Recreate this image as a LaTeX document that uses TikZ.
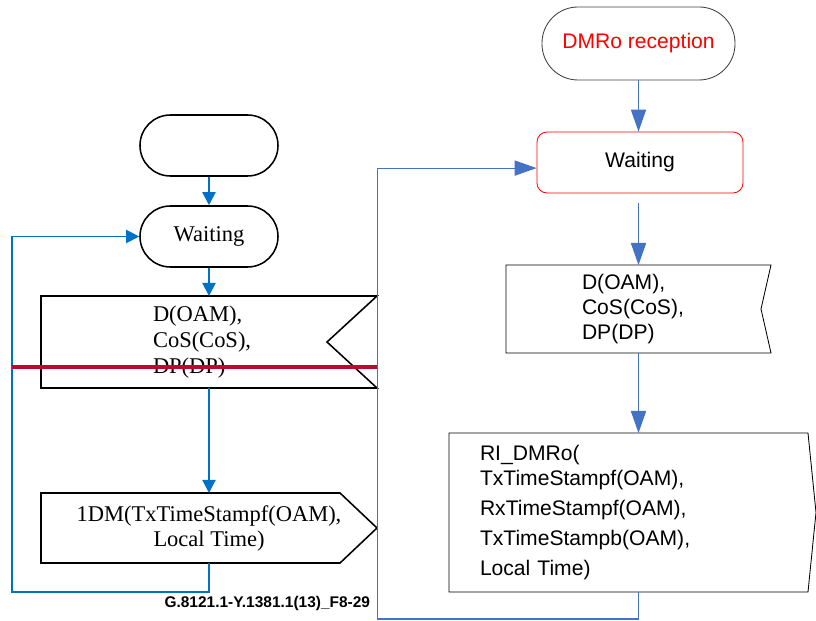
\documentclass[tikz,border=0pt]{standalone}
\usepackage{fontspec}
\setmainfont{Liberation Serif}
\newfontfamily\arialfont{Liberation Sans}
\usepackage{xcolor}
\usepackage{tikz}
\usetikzlibrary{arrows.meta, positioning, calc}

\definecolor{flowblue}{RGB}{0,114,198}
\definecolor{linkblue}{RGB}{68,114,196}
\definecolor{barred}{RGB}{185,10,50}

\begin{document}
\begin{tikzpicture}[
    termL/.style={draw, line width=1.1pt, rounded corners=0.76cm, minimum width=3.45cm, minimum height=1.525cm, font=\fontsize{16}{18.5}\selectfont},
    boxtext/.style={inner sep=0pt, outer sep=0pt},
    outL/.style={line width=1.1pt, line join=miter},
    outR/.style={line width=0.6pt, line join=miter},
    fontR/.style={font=\arialfont\fontsize{15}{17.8}\selectfont},
    flowL/.style={-{Triangle[length=0.33cm, width=0.33cm]}, flowblue, line width=1.4pt},
    flowR/.style={-{Triangle[length=0.55cm, width=0.38cm]}, linkblue, line width=0.8pt},
]
    \useasboundingbox (0,0) rectangle (20.4,15.525);

    % left: sender side
    \node[termL] (startL) at (5.225,11.8875) {};
    \node[termL] (waitL) at (5.225,9.6125) {Waiting};
    \node[boxtext, minimum width=8.4cm, minimum height=2.3cm, text width=2.8cm, align=left, font=\fontsize{16}{18.5}\selectfont] (dL) at (5.225,6.975) {D(OAM),\\CoS(CoS),\\DP(DP)};
    \draw[outL] (dL.north west) -- (dL.north east) -- ([xshift=-1.25cm]dL.east) -- (dL.south east) -- (dL.south west) -- cycle;
    \node[boxtext, minimum width=8.4cm, minimum height=1.75cm, align=center, font=\fontsize{16}{17.8}\selectfont] (dmL) at (5.225,2.325) {1DM(TxTimeStampf(OAM),\\Local Time)};
    \draw[outL] (dmL.north west) -- ([xshift=-0.925cm]dmL.north east) -- (dmL.east) -- ([xshift=-0.925cm]dmL.south east) -- (dmL.south west) -- cycle;

    \draw[flowL] (startL) -- (waitL);
    \draw[flowL] (waitL) -- (dL);
    \draw[flowL] (dL) -- (dmL);
    \coordinate (loopL) at (0.3,0.725);
    \draw[flowL] (dmL.south) |- (loopL) |- (waitL.west);

    \draw[barred, line width=2.2pt] (0.3,6.35) -- (9.425,6.35);

    \node[anchor=base east, font=\arialfont\bfseries\fontsize{11}{13}\selectfont] (figid) at (9.375,0.325) {G.8121.1-Y.1381.1(13)\_F8-29};

    % right: DMRo reception
    \node[fontR, draw=black!75, line width=0.6pt, rounded corners=0.9cm, minimum width=4.825cm, minimum height=1.825cm, text=red] (dmro) at (15.9625,14.4375) {DMRo reception};
    \node[fontR, draw=red, line width=0.6pt, rounded corners=0.25cm, minimum width=5.15cm, minimum height=1.525cm] (waitR) at (16.0,11.4625) {Waiting};
    \node[boxtext, fontR, minimum width=6.625cm, minimum height=2.2cm, text width=2.825cm, align=left] (dR) at (15.9625,7.8) {D(OAM),\\CoS(CoS),\\DP(DP)};
    \draw[outR] (dR.north west) -- (dR.north east) -- ([xshift=-0.25cm]dR.east) -- (dR.south east) -- (dR.south west) -- cycle;
    \node[boxtext, font=\arialfont\fontsize{15}{21.3}\selectfont, minimum width=8.975cm, minimum height=3.975cm, text width=7.425cm, align=left] (ri) at (15.7125,2.7125) {RI\_DMRo(\\[-3.6pt]TxTimeStampf(OAM),\\RxTimeStampf(OAM),\\TxTimeStampb(OAM),\\Local Time)};
    \draw[outR] (ri.north west) -- (ri.north east) -- ([xshift=0.2cm]ri.east) -- (ri.south east) -- (ri.south west) -- cycle;

    \draw[flowR] (dmro.south) -- (dmro.south |- waitR.north);
    \draw[flowR, shorten <=0.25cm] (waitR.south -| dR.north) -- (dR.north);
    \draw[flowR] (dR.south) -- (dR.south |- ri.north);
    \coordinate (backR) at (9.4375,0.05);
    \draw[flowR] (ri.south -| dR.south) |- (backR) |- ([yshift=-0.14cm]waitR.west);
\end{tikzpicture}
\end{document}
